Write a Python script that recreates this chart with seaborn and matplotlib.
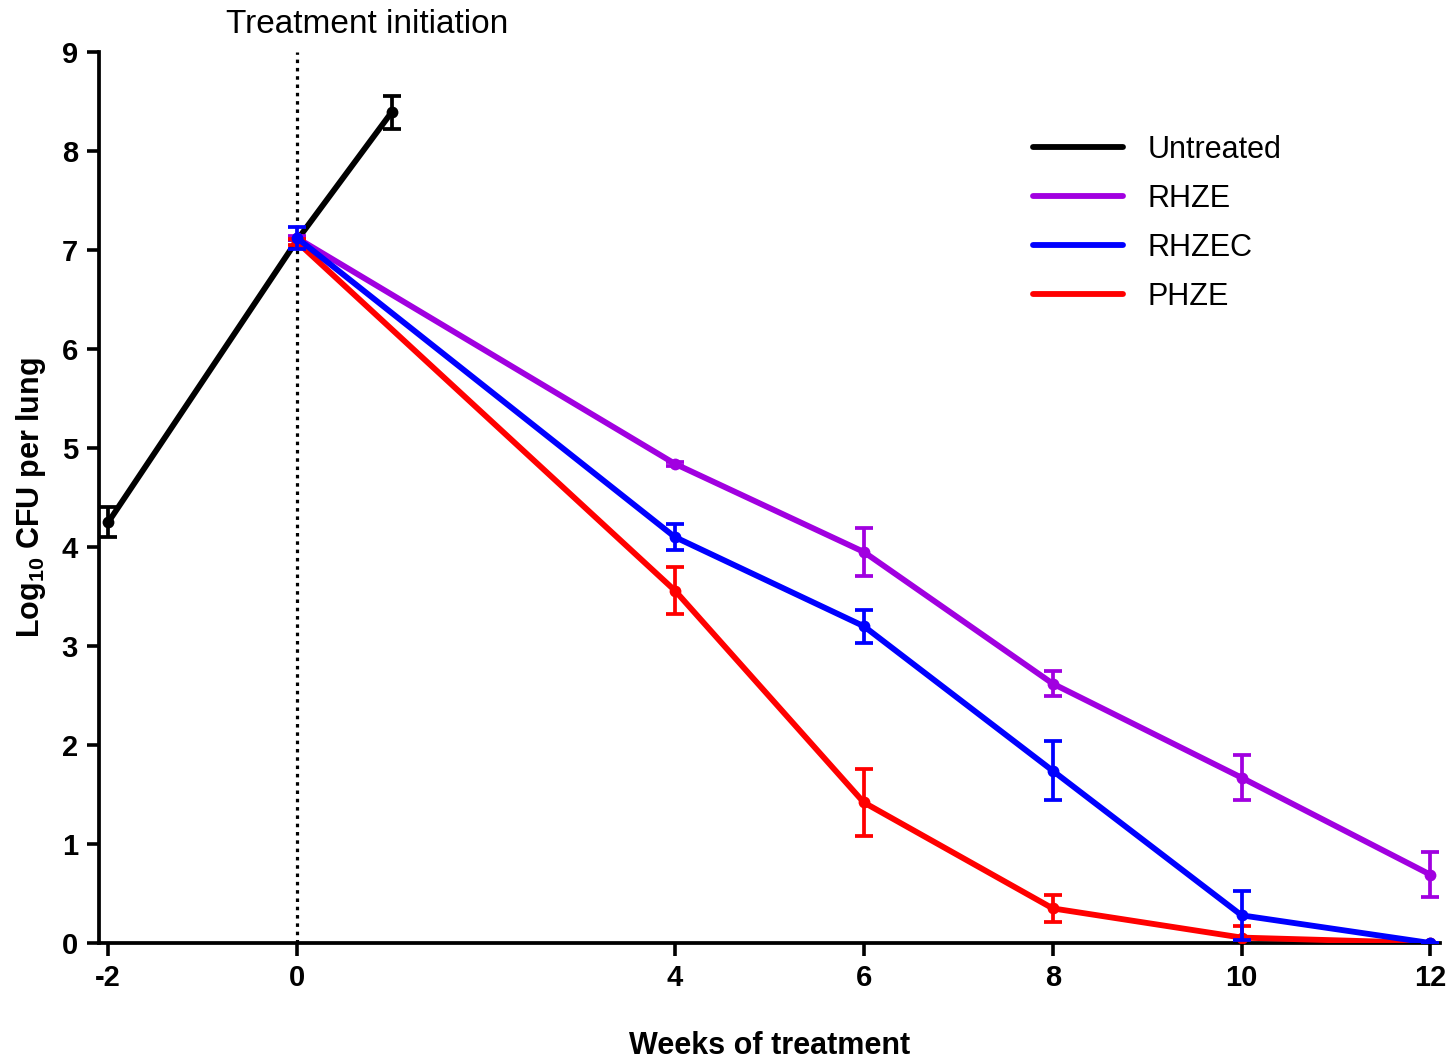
import numpy as np
import pandas as pd
import matplotlib
matplotlib.use("Agg")
import matplotlib.pyplot as plt
import seaborn as sns
from matplotlib.lines import Line2D

# ---- data ----
groups = ["Untreated", "RHZE", "RHZEC", "PHZE"]
colors = ["#000000", "#A100E0", "#0000FF", "#FF0000"]

untreated_x = [-2, 0, 1]
untreated_y = [4.25, 7.10, 8.39]
untreated_err = [0.15, 0.00, 0.165]

treat_x = [0, 4, 6, 8, 10, 12]
rhze_y = [7.12, 4.84, 3.95, 2.62, 1.67, 0.69]
rhze_err = [0.02, 0.02, 0.24, 0.125, 0.23, 0.225]
rhzec_y = [7.12, 4.10, 3.20, 1.74, 0.28, 0.00]
rhzec_err = [0.11, 0.13, 0.165, 0.30, 0.25, 0.00]
phze_y = [7.08, 3.56, 1.42, 0.35, 0.055, 0.00]
phze_err = [0.03, 0.24, 0.34, 0.135, 0.12, 0.00]

xticks = [-2, 0, 4, 6, 8, 10, 12]
yticks = list(range(0, 10))

series = {
    "Untreated": (untreated_x, untreated_y, untreated_err),
    "RHZE": (treat_x, rhze_y, rhze_err),
    "RHZEC": (treat_x, rhzec_y, rhzec_err),
    "PHZE": (treat_x, phze_y, phze_err),
}

rows = []
for g in groups:
    xs, ys, es = series[g]
    for x, y, e in zip(xs, ys, es):
        rows.append({"group": g, "week": x, "cfu": y, "err": e})
df = pd.DataFrame(rows)

sns.set_style("ticks")
plt.rcParams["font.family"] = ["Liberation Sans", "DejaVu Sans"]
plt.rcParams["text.color"] = "black"
plt.rcParams["axes.labelcolor"] = "black"
plt.rcParams["xtick.color"] = "black"
plt.rcParams["ytick.color"] = "black"
plt.rcParams["mathtext.fontset"] = "custom"
plt.rcParams["mathtext.bf"] = "Liberation Sans:bold"
plt.rcParams["mathtext.rm"] = "Liberation Sans"

fig = plt.figure(figsize=(14.53, 10.59), dpi=100)
ax = fig.add_axes([0.068, 0.1095, 0.923, 0.8415])

palette = dict(zip(groups, colors))
draw_order = ["Untreated", "RHZE", "PHZE", "RHZEC"]
for g in draw_order:
    sub = df[df["group"] == g]
    sns.lineplot(data=sub, x="week", y="cfu", color=palette[g], lw=4.2,
                 marker="o", markersize=8.5, markeredgewidth=0, ax=ax,
                 legend=False, errorbar=None, sort=False, zorder=3)
    ax.errorbar(sub["week"], sub["cfu"], yerr=sub["err"], fmt="none",
                ecolor=palette[g], elinewidth=2.7, capsize=6.5, capthick=2.7,
                zorder=3)

ax.axvline(0, color="black", lw=2.3, ls=(0, (1.1, 1.5)), zorder=2)

ax.set_xlim(-2.1, 12.1)
ax.set_ylim(0, 9)
ax.set_xticks(xticks)
ax.set_yticks(yticks)
ax.set_xticklabels([str(t) for t in xticks], fontweight="bold", fontsize=21)
ax.set_yticklabels([str(t) for t in yticks], fontweight="bold", fontsize=21)
ax.tick_params(axis="both", direction="out", length=9, width=2.6, pad=6,
               color="black")

for s in ["top", "right"]:
    ax.spines[s].set_visible(False)
for s in ["left", "bottom"]:
    ax.spines[s].set_linewidth(2.7)
    ax.spines[s].set_color("black")

ax.set_xlabel("Weeks of treatment", fontweight="bold", fontsize=22,
              labelpad=28)
ax.set_ylabel(r"Log$_{\mathbf{10}}$ CFU per lung", fontweight="bold",
              fontsize=22, labelpad=10)

ax.text(0.74, 9.12, "Treatment initiation", ha="center", va="bottom",
        fontsize=24, color="black", clip_on=False)

handles = [Line2D([0], [0], color=c, lw=4.2, solid_capstyle="round")
           for c in colors]
leg = fig.legend(handles, groups, loc="upper left",
                 bbox_to_anchor=(1033 / 1453, 1 - 135 / 1059),
                 frameon=False, fontsize=22, handlelength=2.95,
                 handletextpad=0.8, labelspacing=0.62, borderpad=0,
                 borderaxespad=0)
for t in leg.get_texts():
    t.set_color("black")

fig.savefig("out.png", dpi=100)
